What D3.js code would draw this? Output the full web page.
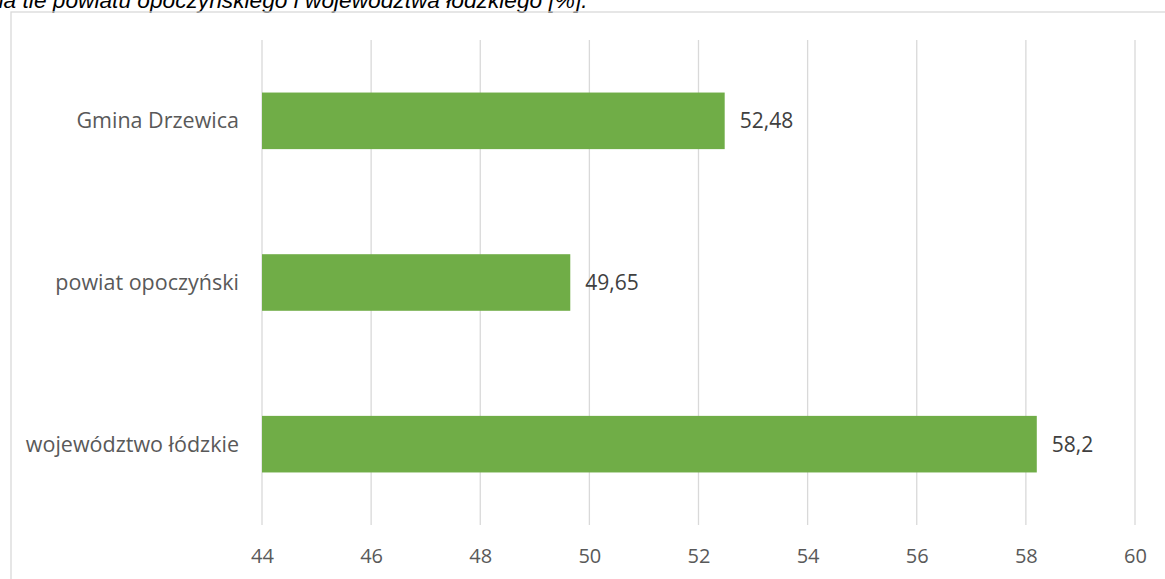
<!DOCTYPE html>
<html>
<head>
<meta charset="utf-8">
<script src="https://cdn.jsdelivr.net/npm/d3@7"></script>
<style>
  body { margin: 0; background: #fff; }
  svg { display: block; }
</style>
</head>
<body>
<script>
let categories = ["Gmina Drzewica", "powiat opoczyński", "województwo łódzkie"]
let values = [52.48, 49.65, 58.2]
let valueLabels = ["52,48", "49,65", "58,2"]
let ticks = [44, 46, 48, 50, 52, 54, 56, 58, 60]

let W = 1165, H = 579

let svg = d3.select("body").append("svg")
    .attr("width", W)
    .attr("height", H)

// title line, cut off at the top of the picture
svg.append("text")
    .attr("x", -9)
    .attr("y", 7.5)
    .style("font-family", "'Liberation Sans', Arial, sans-serif")
    .style("font-style", "italic")
    .style("font-size", "22.7px")
    .style("fill", "#000")
    .text("na tle powiatu opoczyńskiego i województwa łódzkiego [%].")

// chart area border
svg.append("rect")
    .attr("x", 11)
    .attr("y", 12)
    .attr("width", W + 20)
    .attr("height", H + 20)
    .attr("fill", "none")
    .attr("stroke", "#d9d9d9")
    .attr("stroke-width", 1.3)

let x = d3.scaleLinear().domain([44, 60]).range([262, 1135])
let y = d3.scaleBand().domain(categories).range([40, 525]).paddingInner(0.65).paddingOuter(0.325)

let font = "'Open Sans', 'Noto Sans', sans-serif"

// gridlines
svg.append("g")
    .selectAll("line")
    .data(ticks)
    .enter()
    .append("line")
        .attr("x1", d => x(d))
        .attr("x2", d => x(d))
        .attr("y1", 40)
        .attr("y2", 525)
        .attr("stroke", "#d9d9d9")
        .attr("stroke-width", 1.3)

// x axis labels
let xAxis = d3.axisBottom(x).tickValues(ticks).tickSize(0).tickPadding(0).tickFormat(d => d)
let gx = svg.append("g")
    .attr("transform", "translate(0,563)")
    .call(xAxis)
gx.select(".domain").remove()
gx.selectAll("text")
    .attr("dy", 0)
    .style("font-family", font)
    .style("font-size", "20px")
    .style("fill", "#595959")

// bars
svg.append("g")
    .selectAll("rect")
    .data(values)
    .enter()
    .append("rect")
        .attr("x", x(44))
        .attr("y", (d, i) => y(categories[i]))
        .attr("width", d => x(d) - x(44))
        .attr("height", y.bandwidth())
        .attr("fill", "#70ad47")

// value labels
svg.append("g")
    .selectAll("text")
    .data(values)
    .enter()
    .append("text")
        .attr("x", d => x(d) + 15)
        .attr("y", (d, i) => y(categories[i]) + y.bandwidth() / 2)
        .attr("dy", "0.35em")
        .style("font-family", font)
        .style("font-size", "21px")
        .style("fill", "#404040")
        .text((d, i) => valueLabels[i])

// category labels
svg.append("g")
    .selectAll("text")
    .data(categories)
    .enter()
    .append("text")
        .attr("x", 239)
        .attr("y", d => y(d) + y.bandwidth() / 2)
        .attr("dy", "0.35em")
        .attr("text-anchor", "end")
        .style("font-family", font)
        .style("font-size", "21.5px")
        .style("fill", "#595959")
        .text(d => d)
</script>
</body>
</html>
